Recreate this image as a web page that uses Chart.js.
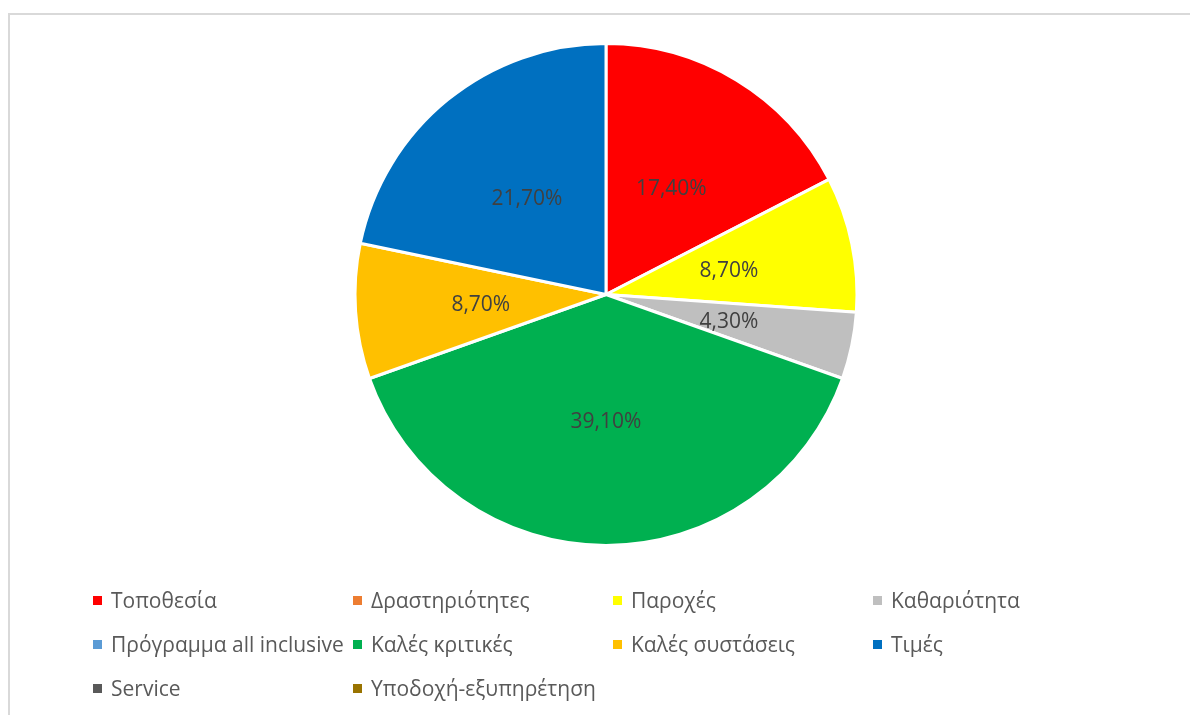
<!DOCTYPE html>
<html>
<head>
<meta charset="utf-8">
<script src="https://cdn.jsdelivr.net/npm/chart.js@4/dist/chart.umd.min.js"></script>
<style>
  html, body { margin: 0; padding: 0; background: #fff; }
  body { width: 1190px; height: 715px; position: relative; overflow: hidden; }
  #frame { position: absolute; left: 8px; top: 13px; right: -10px; bottom: -10px;
           border-top: 2px solid #D9D9D9; border-left: 2px solid #D9D9D9; }
  #wrap { position: absolute; left: 0; top: 0; width: 1190px; height: 715px; }
  #legend { position: absolute; left: 93px; top: 586px; display: grid;
            grid-template-columns: repeat(4, 260px); grid-auto-rows: 44px;
            font-family: "Open Sans", sans-serif; font-size: 21px; color: #595959; }
  #legend .item { display: flex; align-items: center; white-space: nowrap; height: 28px; }
  #legend .box { width: 9px; height: 9px; margin-right: 9px; flex: none; }
</style>
</head>
<body>
<div id="frame"></div>
<div id="wrap"><canvas id="c" width="1190" height="715"></canvas></div>
<div id="legend"></div>
<script>
// Share of each reason (%)
const categories = ["Τοποθεσία", "Δραστηριότητες", "Παροχές", "Καθαριότητα",
  "Πρόγραμμα all inclusive", "Καλές κριτικές", "Καλές συστάσεις", "Τιμές",
  "Service", "Υποδοχή-εξυπηρέτηση"];
const shares = [17.4, 0, 8.7, 4.3, 0, 39.1, 8.7, 21.7, 0, 0];
const sliceColors = ["#FF0000", "#ED7D31", "#FFFF00", "#BFBFBF", "#5B9BD5",
  "#00B050", "#FFC000", "#0070C0", "#595959", "#997300"];

const fmt = v => v.toFixed(2).replace(".", ",") + "%";

// Percentage labels placed at the middle of each non-empty slice
const sliceLabels = {
  id: "sliceLabels",
  afterDatasetsDraw(chart) {
    const ctx = chart.ctx;
    const meta = chart.getDatasetMeta(0);
    ctx.save();
    ctx.font = '21px "Open Sans", sans-serif';
    ctx.fillStyle = "#404040";
    ctx.textAlign = "center";
    ctx.textBaseline = "middle";
    meta.data.forEach((arc, i) => {
      const v = chart.data.datasets[0].data[i];
      if (!v) return;
      const p = arc.tooltipPosition();
      ctx.fillText(fmt(v), p.x, p.y + 2);
    });
    ctx.restore();
  }
};

const chart = new Chart(document.getElementById("c"), {
  type: "pie",
  data: {
    labels: categories,
    datasets: [{
      data: shares,
      backgroundColor: sliceColors,
      borderColor: "#FFFFFF",
      borderWidth: 3
    }]
  },
  options: {
    responsive: false,
    animation: false,
    layout: { padding: { top: 42, bottom: 168, left: 22, right: 0 } },
    plugins: { legend: { display: false }, tooltip: { enabled: false } }
  },
  plugins: [sliceLabels]
});

// Legend grid built from the chart's own labels and colours
const legendEl = document.getElementById("legend");
chart.data.labels.forEach((name, i) => {
  const item = document.createElement("div");
  item.className = "item";
  const box = document.createElement("span");
  box.className = "box";
  box.style.background = chart.data.datasets[0].backgroundColor[i];
  const txt = document.createElement("span");
  txt.textContent = name;
  item.appendChild(box);
  item.appendChild(txt);
  legendEl.appendChild(item);
});
</script>
</body>
</html>
